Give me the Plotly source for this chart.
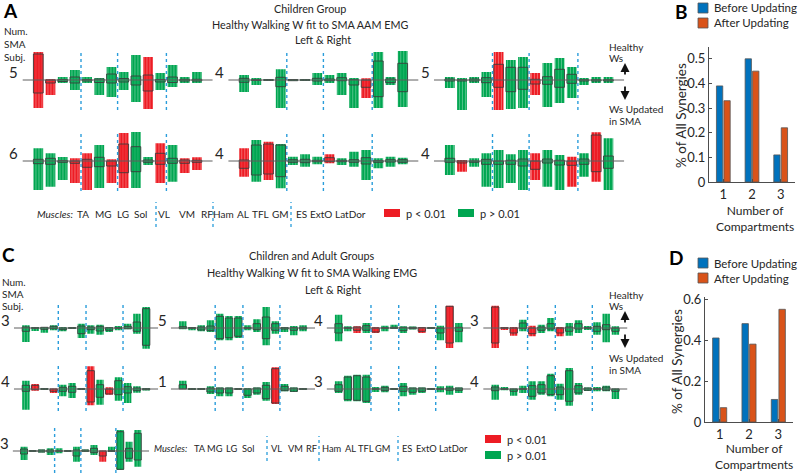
import plotly.graph_objects as go

W, H = 800, 473
FONT = "Lato"
TXT = "#262626"
RED = "#ED1C24"
GREEN = "#00A651"
BLUE = "#0072BD"
ORANGE = "#D95319"
DOT = "#2A9DDB"

muscles = ["TA", "MG", "LG", "Sol", "VL", "VM", "RF", "Ham", "AL", "TFL", "GM", "ES", "ExtO", "LatDor"]
muscle_groups = [4, 3, 4, 3]

# bar charts B and D
compartments = [1, 2, 3]
b_before = [0.39, 0.50, 0.11]
b_after = [0.33, 0.45, 0.22]
d_before = [0.41, 0.48, 0.11]
d_after = [0.07, 0.38, 0.55]

# mini panels, one tuple per muscle:
# (box top, box bottom, lines top, lines bottom, 'r' p<0.01 / 'g' p>0.01)
a1 = [(26, -13, 28, -28, "r"), (0, -3, 1, -15, "r"), (0.5, -1.5, 3, -3, "g"), (3, -3, 10, -10, "g"),
      (0.5, -1, 3, -3, "g"), (1, -2.5, 2, -15, "g"), (6, -3, 13, -17, "g"),
      (1.5, -2, 8, -10, "g"), (4, -5, 25, -22, "g"), (5, -11, 23, -29, "r"), (0.5, -2, 7, -10, "g"),
      (3, -2.5, 15, -7, "g"), (0.7, -1, 3, -3, "g"), (0.7, -1, 8, -3, "g")]
a2 = [(1.7, -2.3, 5, -12, "g"), (0.3, -0.5, 2, -5, "g"), (0.3, -0.3, 0.5, -0.5, "g"), (2.7, -6.7, 10.7, -28, "g"),
      (0.5, -0.7, 1, -1, "g"), (0.3, -0.3, 1, -1, "g"), (1.7, -1, 7, -5, "g"),
      (1, -0.7, 5, -3, "g"), (2.3, -0.7, 7, -15, "g"), (0.3, -5, 2, -28, "g"), (0, -7.3, 1.7, -18, "r"),
      (19, -16.7, 28, -28, "g"), (1, -2.7, 3, -5, "g"), (16.7, -11.7, 29, -27, "g")]
a3 = [(1, -1, 3, -8, "g"), (0.3, -1, 2, -30, "g"), (1, -1, 3, -3, "g"), (2.3, -2.7, 8, -17, "g"),
      (15.7, -7.3, 28, -30, "r"), (12.7, -11.7, 20, -29, "g"), (12.7, -9.3, 23, -28, "g"),
      (0.7, -4, 7, -15, "r"), (3.3, -4.3, 17, -27, "g"), (10.7, -7.3, 22, -23, "g"), (5.7, -3.3, 13, -18, "g"),
      (0.3, -1, 2, -5, "g"), (0.3, -1, 3, -3, "g"), (0.3, -1, 3, -3, "g")]
a4 = [(1.7, -2.7, 12.7, -29, "g"), (2.7, -3.3, 7.7, -25.7, "g"), (0.3, -1.3, 4, -19, "g"), (0, -2.3, 2.7, -22, "r"),
      (1.7, -6.3, 7.7, -29, "r"), (3.7, -5.7, 16, -27, "g"), (0, -5, 1.7, -22, "r"),
      (17, -11.7, 28, -27, "r"), (14.3, -10.7, 29, -27, "g"), (1, -1.3, 4, -4, "g"), (7.7, -3.3, 17.7, -22, "r"),
      (2.7, -2.3, 16, -20.7, "g"), (1, -2.3, 2.7, -12, "r"), (0.7, -1.3, 3.7, -9, "r")]
a5 = [(1, -7.3, 12.7, -15.7, "r"), (16, -14, 21, -20.7, "g"), (17, -13, 19.3, -19, "r"), (16, -15.7, 17, -27.3, "g"),
      (1.3, -1.3, 4.3, -4, "g"), (1.7, -1.7, 6.7, -5.7, "g"), (0.7, -0.7, 4.3, -3.3, "g"),
      (3.3, -0.7, 6.7, -2.3, "r"), (0.7, -0.7, 2.7, -4, "g"), (1.3, -1.3, 9.3, -5.7, "g"), (3.3, -3, 11, -19, "g"),
      (0.3, -1.3, 2.7, -7.3, "g"), (1.3, -1, 4.3, -5.7, "g"), (1.3, -1.3, 3.3, -3.3, "g")]
a6 = [(2.7, -1.3, 16, -14, "g"), (0, -2, 1, -10.7, "r"), (0, -1.3, 2.7, -5.7, "g"), (1.7, -3.3, 7.7, -25.7, "g"),
      (0, -3.3, 11, -27, "g"), (0.7, -3.3, 6.7, -22, "g"), (2, -5, 11, -29, "g"),
      (0, -8.3, 7.7, -19, "r"), (2, -2, 11, -25.7, "g"), (0.7, -4, 6, -29, "g"), (0, -4.3, 4.3, -25.7, "r"),
      (2, -3.3, 7.7, -15.7, "g"), (26, -10.7, 28.7, -20.7, "r"), (5, -7.3, 22.7, -29, "g")]

c1 = [(1, -3.3, 2.7, -14, "g"), (0.3, -0.3, 1, -3, "g"), (0.7, -1.3, 1, -4.7, "g"), (1.7, -0.7, 2.7, -2.3, "g"),
      (0, -1.7, 1, -3.3, "g"), (0.3, -0.3, 0.5, -0.5, "g"), (2, -5.7, 4.3, -10, "g"),
      (1, -1.7, 2.7, -5.7, "g"), (1.7, -3, 3.3, -6.7, "g"), (0.3, -2.3, 1, -4, "g"), (0.3, -0.3, 2, -2.3, "g"),
      (1.7, -0.7, 4.3, -1.3, "g"), (6, -3.3, 14.3, -5.7, "g"), (19.3, -17.3, 21, -20.7, "g")]
c2 = [(1.3, -0.3, 6.7, -1.3, "g"), (0.3, -0.3, 1, -2.3, "g"), (1, -2, 2.7, -3.3, "g"), (2, -2.7, 7.7, -4, "g"),
      (11.7, -10.7, 14.3, -12.3, "g"), (10, -9.7, 12, -12.3, "g"), (10, -8.3, 12, -10, "g"),
      (0.3, -0.3, 2.7, -2.3, "g"), (4.3, -1.7, 8.7, -4, "g"), (11, -10.7, 21, -17.3, "g"), (4.3, -2.3, 6.7, -5.7, "g"),
      (0.3, -1, 1, -4, "g"), (0.3, -2.3, 2, -7.3, "g"), (0.7, -1, 2.7, -3.3, "g")]
c3 = [(4.3, -5, 13.3, -13.3, "g"), (0.3, -0.3, 1.7, -3.3, "g"), (1, -2.3, 1.7, -5, "r"), (2.3, -2.3, 5, -5, "g"),
      (0, -4, 1, -5, "r"), (0.3, -0.3, 2.3, -3.3, "g"), (0.7, -0.3, 3.3, -1, "g"),
      (0.7, -2.7, 1.7, -5, "g"), (0.7, -0.7, 1.5, -1.5, "g"), (0.3, -3.3, 1, -5, "r"), (0.3, -0.3, 1, -1, "g"),
      (0, -5, 2.3, -12.3, "g"), (21.7, -15, 22.3, -20, "r"), (0.7, -3.3, 5, -14.3, "g")]
c4 = [(21, -15, 22.3, -20, "r"), (0.3, -0.3, 1, -2, "r"), (0, -5, 1, -7.7, "r"), (5, -0.3, 8.3, -3.3, "g"),
      (0, -5.7, 2.3, -8.3, "r"), (1, -2.3, 3.3, -5, "g"), (4.3, -1, 10, -3.3, "g"),
      (0, -5, 1, -8.3, "r"), (1, -3.3, 5, -7.7, "g"), (4.3, -1, 7.7, -5, "g"), (0.3, -0.3, 2, -2, "g"),
      (1.7, -3.3, 5.7, -6.7, "g"), (3.3, -1.7, 14.3, -14.3, "g"), (0, -3.3, 1.7, -6.7, "g")]
c5 = [(3.7, -2.3, 8.3, -20.7, "g"), (3.7, -0.7, 5, -1.7, "r"), (0.3, -0.3, 1, -1, "g"), (0, -2.3, 0.5, -4, "r"),
      (1.7, -2.3, 4.3, -7.3, "g"), (2.7, -3.3, 6, -9, "g"), (0.3, -0.3, 0.5, -0.5, "g"),
      (18.3, -13, 22.7, -16.3, "r"), (4.3, -8.3, 9.3, -15.7, "g"), (0, -5, 1.7, -5.7, "r"), (8.3, -5.7, 11.7, -11.7, "g"),
      (2.3, -4, 6, -14, "g"), (1, -1.7, 2.7, -3.7, "g"), (0.3, -0.7, 1, -1.5, "g")]
c6 = [(4.3, 0, 8.3, 0, "g"), (0.3, -0.3, 0.5, -0.5, "g"), (0.3, -0.3, 0.5, -0.5, "g"), (1, -3, 2.7, -5, "g"),
      (1, -4, 1.5, -7.3, "g"), (1, -4, 1.5, -7.3, "g"), (0.3, -0.3, 0.5, -0.5, "g"),
      (0, -6.3, 1, -9, "g"), (1, -4, 1.5, -5.7, "g"), (3.7, -9.7, 7, -11.7, "g"), (20.3, -14, 21.7, -15, "r"),
      (2.7, -1.7, 5, -2.3, "g"), (1, -2.3, 1.5, -3, "g"), (0.3, -0.3, 0.5, -0.5, "g")]
c7 = [(4.3, -2.3, 7.7, -4, "g"), (12, -10.7, 13.3, -12.3, "g"), (13.3, -11.3, 14.3, -12.3, "g"), (12, -12.3, 14.3, -14, "g"),
      (0.3, -0.3, 2, -3, "g"), (1.7, -1.7, 3.3, -3.3, "g"), (0.3, -0.3, 0.5, -0.5, "g"),
      (2.7, -2.3, 6, -7.3, "g"), (1, -3.3, 1.5, -5.7, "g"), (1, -2.3, 1.5, -4, "g"), (0.3, -0.3, 0.5, -0.5, "g"),
      (0.3, -0.3, 2.7, -3.3, "g"), (1, -1.3, 3.3, -5.7, "g"), (1, -1.3, 1.5, -4, "g")]
c8 = [(2, -1.7, 4.3, -10.7, "g"), (0.3, -0.3, 2, -1.3, "g"), (0, -2.3, 0.5, -6.7, "g"), (0.3, -0.3, 3.3, -4, "g"),
      (3.3, -7.3, 7.7, -10.7, "g"), (4.3, -4, 7.7, -5.7, "g"), (13.3, -5.7, 15.3, -7.3, "g"),
      (2, -5.7, 5.3, -10.7, "g"), (18.3, -12.3, 21, -16.7, "g"), (3.3, -4, 6, -5.7, "g"), (1, -1.3, 1.5, -2, "g"),
      (0.3, -0.3, 2, -2.3, "g"), (2, -1.3, 3.3, -2.3, "g"), (0, -2.3, 0.5, -10, "g")]
c9 = [(2, -3, 4.3, -9, "g"), (0.3, -0.3, 0.5, -0.5, "g"), (1, -1, 1.5, -1.5, "g"), (1, -1, 2.7, -4, "g"),
      (0.3, -0.3, 2.7, -2.3, "g"), (0.3, -0.3, 1, -1, "g"), (1, -5, 4.3, -10.7, "g"),
      (1, -0.3, 1.5, -1, "g"), (2.7, -1.7, 6, -4, "g"), (0, -5, 0.5, -10.7, "r"), (0.3, -0.3, 4.3, -1, "g"),
      (19.3, -18.3, 21, -19, "g"), (2.7, -7.3, 9.3, -10.7, "g"), (17.7, -9, 21, -15.7, "g")]

a_panels = [a1, a2, a3, a4, a5, a6]
a_subjects = [5, 4, 5, 6, 4, 4]
c_panels = [c1, c2, c3, c4, c5, c6, c7, c8, c9]
c_subjects = [3, 5, 4, 3, 4, 1, 3, 4, 3]

fig = go.Figure()
axes = {}
annotations = []
shapes = []


def note(text, x, y, size=12, color=TXT, xanchor="center", yanchor="middle", **kw):
    annotations.append(dict(text=text, x=x / W, y=1 - y / H, xref="paper", yref="paper",
                            xanchor=xanchor, yanchor=yanchor, showarrow=False,
                            font=dict(family=FONT, size=size, color=color), **kw))


def rgba(c, a):
    c = c.lstrip("#")
    return "rgba(%d,%d,%d,%s)" % (int(c[0:2], 16), int(c[2:4], 16), int(c[4:6], 16), a)


seps = []
acc = 0
for g in muscle_groups[:-1]:
    acc += g
    seps.append(acc - 0.5)


def add_panel(n, data, c0, z, unit, half, dot_top, dot_bot, subj):
    xname, yname = f"x{n}", f"y{n}"
    x0, x1 = -1.3, 14.3
    left, right = c0 + x0 * unit, c0 + x1 * unit
    top, bottom = z - half, min(z + half, H)
    axes[f"xaxis{n}"] = dict(domain=[left / W, right / W], range=[x0, x1], visible=False,
                             anchor=yname, automargin=False)
    axes[f"yaxis{n}"] = dict(domain=[1 - bottom / H, 1 - top / H], range=[z - bottom, half],
                             visible=False, anchor=xname, automargin=False)
    pos = list(range(len(data)))
    colors = [RED if d[4] == "r" else GREEN for d in data]
    # the individual subject lines
    fig.add_trace(go.Bar(
        x=pos, base=[d[3] for d in data], y=[d[2] - d[3] for d in data], width=0.8,
        marker=dict(color=colors, line_width=0,
                    pattern=dict(shape="|", size=3, solidity=0.35, fgopacity=0.32)),
        xaxis=xname, yaxis=yname, showlegend=False, hoverinfo="skip"))
    # boxes
    fig.add_trace(go.Bar(
        x=pos, base=[d[1] for d in data], y=[d[0] - d[1] for d in data], width=0.8,
        marker=dict(color=[rgba(c, 0.6) for c in colors], line=dict(color="#3c3c3c", width=0.9)),
        xaxis=xname, yaxis=yname, showlegend=False, hoverinfo="skip"))
    dx, dy = [], []
    for s in seps:
        dx += [s, s, None]
        dy += [dot_bot, dot_top, None]
    fig.add_trace(go.Scatter(x=dx, y=dy, mode="lines", line=dict(color=DOT, width=1.4, dash="dot"),
                             xaxis=xname, yaxis=yname, showlegend=False, hoverinfo="skip"))
    fig.add_trace(go.Scatter(x=[x0, x1], y=[0, 0], mode="lines", line=dict(color="#5e5e5e", width=1),
                             xaxis=xname, yaxis=yname, showlegend=False, hoverinfo="skip"))
    note(str(subj), left - 2, z - 8, size=15, xanchor="right")


# panel A: 2 rows x 3 cols
a_cols = [38.3, 244.1, 449.8]
a_rows = [80, 161]
n = 1
for i, data in enumerate(a_panels):
    add_panel(n, data, a_cols[i % 3], a_rows[i // 3], 12.2, 32, 28, -30, a_subjects[i])
    n += 1

# panel C: 4 + 4 + 1
c_cols = [25.9, 182.8, 338.6, 495.2]
c_rows = [328, 389, 451]
for i, data in enumerate(c_panels):
    row, col = i // 4, i % 4
    unit = 9.25 if row < 2 else 8.75
    c0 = c_cols[col] if row < 2 else 24
    add_panel(n, data, c0, c_rows[row], unit, 24, 23, -22, c_subjects[i])
    n += 1

# bar charts B and D
bar_axes = dict(showline=True, linecolor="#4d4d4d", linewidth=1, ticks="inside", ticklen=3,
                tickcolor="#4d4d4d", showgrid=False, zeroline=False, automargin=False,
                tickfont=dict(family=FONT, size=13, color=TXT))
for k, (before, after, xdom, ydom, yr, dt) in enumerate([
        (b_before, b_after, (709, 795), (182, 46.5), 0.55, 0.1),
        (d_before, d_after, (705, 793), (422, 297), 0.61, 0.2)]):
    xname, yname = f"x{n}", f"y{n}"
    axes[f"xaxis{n}"] = dict(domain=[xdom[0] / W, xdom[1] / W], range=[0.5, 3.5], anchor=yname,
                             tickvals=compartments, **bar_axes)
    axes[f"yaxis{n}"] = dict(domain=[1 - ydom[0] / H, 1 - ydom[1] / H], range=[0, yr], anchor=xname,
                             dtick=dt, tickformat="~g", **bar_axes)
    fig.add_trace(go.Bar(x=compartments, y=before, width=0.22, offset=-0.24, name="Before Updating",
                         marker=dict(color=BLUE, line=dict(color="#555", width=0.8)),
                         xaxis=xname, yaxis=yname, showlegend=False))
    fig.add_trace(go.Bar(x=compartments, y=after, width=0.22, offset=0.02, name="After Updating",
                         marker=dict(color=ORANGE, line=dict(color="#555", width=0.8)),
                         xaxis=xname, yaxis=yname, showlegend=False))
    n += 1

# legends for B and D
for y0 in [3, 258]:
    for j, (c, t) in enumerate([(BLUE, "Before Updating"), (ORANGE, "After Updating")]):
        yy = y0 + j * 15
        shapes.append(dict(type="rect", xref="paper", yref="paper", x0=698 / W, x1=708 / W,
                           y0=1 - (yy + 10) / H, y1=1 - yy / H, fillcolor=c, line=dict(color="#555", width=0.8)))
        note(t, 712, yy + 5, size=11.5, xanchor="left")
note("<b>B</b>", 681, 11, size=19, color="#000")
note("<b>D</b>", 676, 257, size=19, color="#000")
note("% of All Synergies", 681, 116, size=13.5, textangle=-90)
note("% of All Synergies", 677, 362, size=13.5, textangle=-90)
note("Number of<br>Compartments", 755, 218, size=12)
note("Number of<br>Compartments", 754, 456, size=12)

# titles and labels of A and C
note("<b>A</b>", 10, 10, size=19, color="#000")
note("<b>C</b>", 8, 254, size=19, color="#000")
for y, t, x in [(9, "Children Group", 310), (24, "Healthy Walking W fit to SMA AAM EMG", 310),
                (40, "Left &amp; Right", 323)]:
    note(t, x, y, size=10.8)
for y, t, x in [(255, "Children and Adult Groups", 312), (272, "Healthy Walking W fit to SMA Walking EMG", 312),
                (289, "Left &amp; Right", 333)]:
    note(t, x, y, size=10.8)
for y, t in [(31, "Num."), (44, "SMA"), (57, "Subj.")]:
    note(t, 2, y, size=10, xanchor="left")
for y, t in [(282, "Num."), (294, "SMA"), (306, "Subj.")]:
    note(t, 0, y, size=10, xanchor="left")

# healthy / updated arrows
for z, (h1, h2, u1, u2) in [(80, (47, 58, 109, 121)), (328, (295, 306, 358, 370))]:
    note("Healthy", 607, h1, size=10, xanchor="left")
    note("Ws", 607, h2, size=10, xanchor="left")
    note("Ws Updated", 607, u1, size=10, xanchor="left")
    note("in SMA", 607, u2, size=10, xanchor="left")
    for tip, tail in [(z - 17, z - 4), (z + 20, z + 5)]:
        annotations.append(dict(x=625 / W, y=1 - tip / H, xref="paper", yref="paper", text="",
                                showarrow=True, ax=0, ay=tail - tip, arrowhead=2, arrowsize=1,
                                arrowwidth=1.8, arrowcolor="#111"))

# muscle legends
a_name_x = [83, 103, 123, 140, 164, 186.5, 207, 223, 243, 260, 280, 301, 321, 350]
a_sep_x = [156, 213, 291]
c_name_x = [200, 215.5, 231.5, 247.5, 276, 295, 311, 332, 350, 366, 382.5, 407, 426, 453.5]
c_sep_x = [267, 319, 398]
for name_x, sep_x, yc, mx, fs in [(a_name_x, a_sep_x, 214, 75, 10), (c_name_x, c_sep_x, 448, 189, 9.3)]:
    note("<i>Muscles:</i>", mx, yc, size=fs, xanchor="right")
    for m, x in zip(muscles, name_x):
        note(m, x, yc, size=fs)
    for x in sep_x:
        shapes.append(dict(type="line", xref="paper", yref="paper", x0=x / W, x1=x / W,
                           y0=1 - (yc + 13) / H, y1=1 - (yc - 12) / H,
                           line=dict(color=DOT, width=1.3, dash="dot")))

# p-value legends
for (x, y), c, t in [((384, 209), RED, "p &lt; 0.01"), ((458, 209), GREEN, "p &gt; 0.01"),
                     ((485, 435), RED, "p &lt; 0.01"), ((485, 451), GREEN, "p &gt; 0.01")]:
    shapes.append(dict(type="rect", xref="paper", yref="paper", x0=x / W, x1=(x + 16) / W,
                       y0=1 - (y + 8) / H, y1=1 - y / H, fillcolor=c, line_width=0))
    note(t, x + 20, y + 4, size=11, xanchor="left")

fig.update_layout(
    width=W, height=H, margin=dict(l=0, r=0, t=0, b=0),
    paper_bgcolor="white", plot_bgcolor="white", barmode="overlay", showlegend=False,
    annotations=annotations, shapes=shapes, **axes)

# the page's default 8px body margin would push the figure off the 800x473 window
fig.write_html("out.html", config={"displayModeBar": False},
               post_script="document.body.style.margin='0';")
